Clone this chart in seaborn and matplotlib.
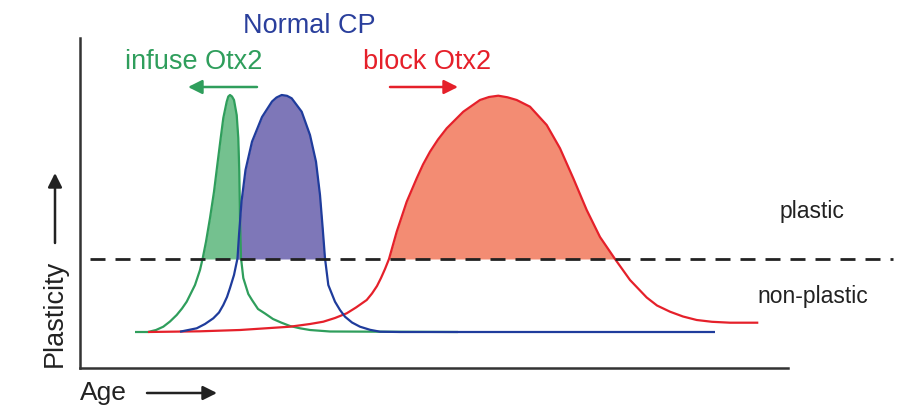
import numpy as np
import pandas as pd
import seaborn as sns
import matplotlib.pyplot as plt

# curve samples (age, plasticity), arbitrary units
green_age = [55, 68, 76, 83.3, 90, 96.7, 102, 106.7, 115, 120, 122.7, 126, 130,
             134, 137.3, 140.7, 143.3, 146.7, 148.3, 150, 152, 154, 156.7, 158.3,
             159.3, 160, 161, 163.3, 168.3, 172, 178, 185, 193, 201, 210, 220,
             230, 250, 378]
green_val = [36, 36, 38, 41.3, 46.5, 53, 59.5, 66.3, 83, 98, 109.7, 126.3, 150,
             176.3, 203, 230, 250, 266.3, 271.5, 273, 271.5, 268, 253, 230,
             196.3, 150, 110, 90, 74, 68, 59, 54.5, 49, 45.5, 42, 39.7,
             38, 36.5, 36]

blue_age = [100, 116.7, 125, 133.3, 139, 143.3, 147, 150, 154, 157.5, 159, 161.5,
            165.5, 172, 182, 192, 196.5, 201.7, 207, 211.7, 221.7, 230, 236, 240,
            242.7, 245, 248.3, 255, 260, 265, 272, 280, 290, 300, 320, 635]
blue_val = [36.3, 39.7, 44, 49.7, 55.5, 63, 71, 80, 93, 109.7, 133, 166.3,
            198, 226.3, 251, 266.5, 270.5, 273, 272.2, 269.7, 256.3, 233, 206.3, 173,
            139.7, 109.7, 83, 66.3, 58, 51.3, 45.5, 41.3, 38.2, 36.3, 36, 36]

red_age = [68, 120, 160, 210, 230, 243.3, 255, 266.7, 276, 286.7, 292, 297, 301,
           305, 309, 316.7, 326.7, 336.7, 343, 350, 358, 366.7, 383.3, 400, 409,
           418.3, 427.5, 436.7, 450, 466.7, 480, 493.3, 506.7, 520, 535, 550,
           566.7, 577, 590, 603, 616.7, 632, 650, 678.3]
red_val = [36, 36.7, 38, 41.3, 44, 46.3, 50, 54.7, 60.5, 68, 74.5, 82, 90,
           99, 109, 136.3, 166.3, 189.7, 203.5, 216.3, 228.5, 239.7, 256.3, 268, 271,
           272.3, 270.7, 268, 261.3, 243, 219.7, 189.7, 158, 131, 109, 88,
           70.5, 62.5, 56.3, 51.5, 48, 46.2, 45.3, 45.3]

threshold = 109

curves = [
    (green_age, green_val, "#2f9e5c", "#74c18f"),
    (blue_age, blue_val, "#1f3c9c", "#7e77b8"),
    (red_age, red_val, "#e5202a", "#f38c73"),
]

sns.set_style("white")
plt.rcParams["font.family"] = ["Liberation Sans", "DejaVu Sans"]

fig = plt.figure(figsize=(9.02, 4.17), dpi=100)
ax = fig.add_axes([80 / 902, 49 / 417, 708 / 902, 330 / 417])

# fills above the threshold first, lines on top
for age, val, line_c, fill_c in curves:
    x = np.array(age, dtype=float)
    y = np.array(val, dtype=float)
    ax.fill_between(x, y, threshold, where=y >= threshold, interpolate=True,
                    color=fill_c, linewidth=0, zorder=1)

for age, val, line_c, fill_c in [curves[0], curves[2], curves[1]]:
    df = pd.DataFrame({"age": age, "plasticity": val})
    sns.lineplot(data=df, x="age", y="plasticity", ax=ax, color=line_c,
                 sort=False, estimator=None, linewidth=1.6, zorder=3,
                 solid_joinstyle="round", solid_capstyle="butt")

ax.plot([10, 813], [threshold, threshold], color="#222222", linewidth=2,
        dashes=(5.4, 3.6), clip_on=False, zorder=4)

ax.set_xlim(0, 708)
ax.set_ylim(0, 330)
ax.set_xticks([])
ax.set_yticks([])
ax.set_xlabel("")
ax.set_ylabel("")
sns.despine(ax=ax)
for side in ["left", "bottom"]:
    ax.spines[side].set_color("#333333")
    ax.spines[side].set_linewidth(1.8)

# labels
ax.text(229, 335, "Normal CP", color="#2a3f9c", fontsize=19.5,
        ha="center", va="baseline")
ax.text(45, 299, "infuse Otx2", color="#2f9e5c", fontsize=19.5,
        ha="left", va="baseline")
ax.text(283, 299, "block Otx2", color="#e5202a", fontsize=19.5,
        ha="left", va="baseline")
ax.text(700, 150, "plastic", color="#222222", fontsize=16.5,
        ha="left", va="baseline")
ax.text(677, 65, "non-plastic", color="#222222", fontsize=16.5,
        ha="left", va="baseline")
ax.text(0, -32, "Age", color="#222222", fontsize=19,
        ha="left", va="baseline")
ax.text(-18, 1, "Plasticity", color="#222222", fontsize=19.5, rotation=90,
        rotation_mode="anchor", ha="left", va="baseline")

arrows = [
    ((177, 281), (108, 281), "#2f9e5c"),
    ((310, 281), (378, 281), "#e5202a"),
    ((67, -25), (137, -25), "#222222"),
    ((-25, 125), (-25, 195), "#222222"),
]
for start, end, c in arrows:
    ax.annotate("", xy=end, xytext=start, annotation_clip=False,
                arrowprops=dict(arrowstyle="-|>", color=c, lw=1.8,
                                mutation_scale=21, shrinkA=0, shrinkB=0))

plt.savefig("out.png", dpi=100)
